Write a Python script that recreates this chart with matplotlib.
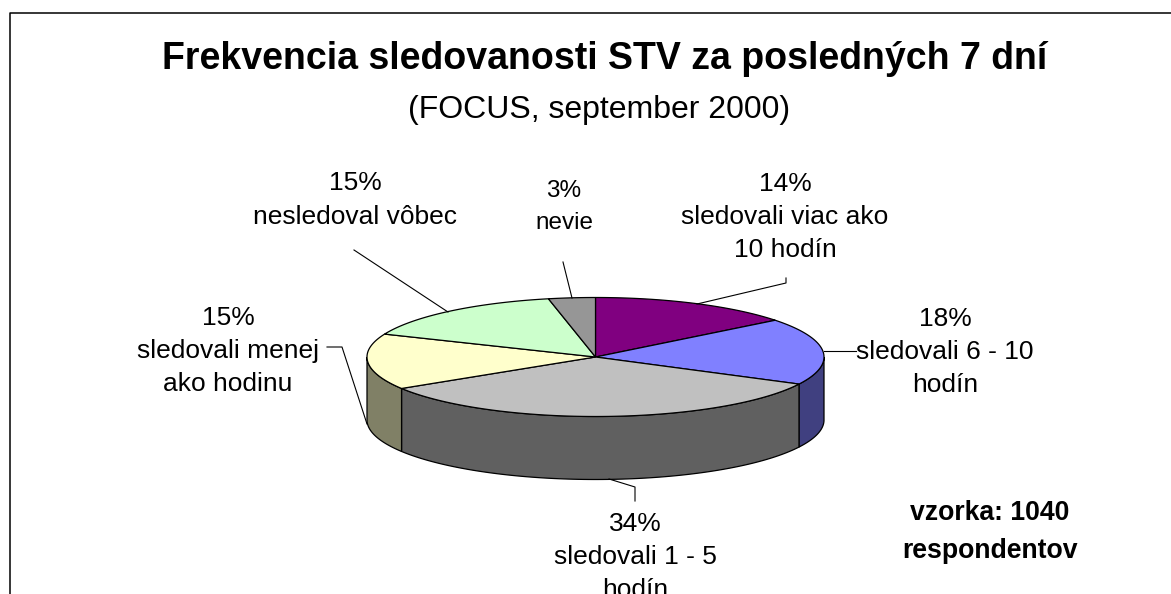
import numpy as np
import matplotlib.pyplot as plt
from matplotlib.patches import Polygon

plt.rcParams['font.family'] = ['Liberation Sans', 'DejaVu Sans']

# data, slice sizes (labels show them rounded)
values = [14.4, 18.1, 33.6, 15.15, 15.4, 3.3]
labels = ['sledovali viac ako\n10 hodín', 'sledovali 6 - 10\nhodín', 'sledovali 1 - 5\nhodín',
          'sledovali menej\nako hodinu', 'nesledoval vôbec', 'nevie']
top_colors = ['#800080', '#8080ff', '#c0c0c0', '#ffffcc', '#ccffcc', '#969696']
side_colors = ['#400040', '#404080', '#606060', '#808066', '#668066', '#4b4b4b']

title = 'Frekvencia sledovanosti STV za posledných 7 dní'
subtitle = '(FOCUS, september 2000)'
note = 'vzorka: 1040\nrespondentov'

# layout in picture pixels
cx, cy, rx, ry, depth = 595.5, 357, 228.5, 59.5, 63
label_pos = [(785, 217), (945, 352), (635, 557), (228, 351), (355, 200), (564, 207)]
leaders = [
    [(697, 304), (786, 283), (786, 278)],
    [(824, 351), (856, 351)],
    [(609, 479), (635, 487), (635, 501)],
    [(367, 424), (342, 347), (327, 347)],
    [(448, 312), (354, 250)],
    [(572, 298), (563, 262)],
]


def ell(t, dy=0):
    # t in degrees, clockwise from the top of the pie
    t = np.radians(t)
    return np.column_stack([cx + rx * np.sin(t), cy - ry * np.cos(t) + dy])


fig = plt.figure(figsize=(11.71, 5.94), dpi=100)
ax = fig.add_axes([0, 0, 1, 1])
ax.set_xlim(0, 1171)
ax.set_ylim(594, 0)
ax.axis('off')

# frame of the slide, open at the bottom and right
ax.plot([9.5, 9.5, 1171], [594, 12.5, 12.5], color='black', lw=1.1, solid_capstyle='butt')

bounds = np.cumsum([0] + values) / sum(values) * 360

# side walls, only the front half is visible
for i in range(len(values)):
    a = max(bounds[i], 90)
    b = min(bounds[i + 1], 270)
    if a < b:
        t = np.linspace(a, b, 100)
        pts = np.vstack([ell(t), ell(t[::-1], depth)])
        ax.add_patch(Polygon(pts, closed=True, facecolor=side_colors[i], edgecolor='black', lw=0.9, zorder=2))

# top of the pie
for i in range(len(values)):
    t = np.linspace(bounds[i], bounds[i + 1], 100)
    pts = np.vstack([[cx, cy], ell(t)])
    ax.add_patch(Polygon(pts, closed=True, facecolor=top_colors[i], edgecolor='black', lw=0.9, zorder=3))

for line in leaders:
    xs, ys = zip(*line)
    ax.plot(xs, ys, color='black', lw=0.8, zorder=4)

for val, lab, pos in zip(values, labels, label_pos):
    small = lab == 'nevie'
    ax.text(pos[0], pos[1], f'{val:.0f}%\n{lab}', ha='center', va='center', multialignment='center',
            fontsize=17.5 if small else 19, linespacing=1.55 if small else 1.49, color='black')

ax.text(605, 59, title, ha='center', va='center', fontsize=27, fontweight='bold')
ax.text(599, 110, subtitle, ha='center', va='center', fontsize=23)
ax.text(990, 532, note, ha='center', va='center', multialignment='center', fontsize=19.2,
        fontweight='bold', linespacing=1.6)

fig.savefig('out.png', dpi=100)
